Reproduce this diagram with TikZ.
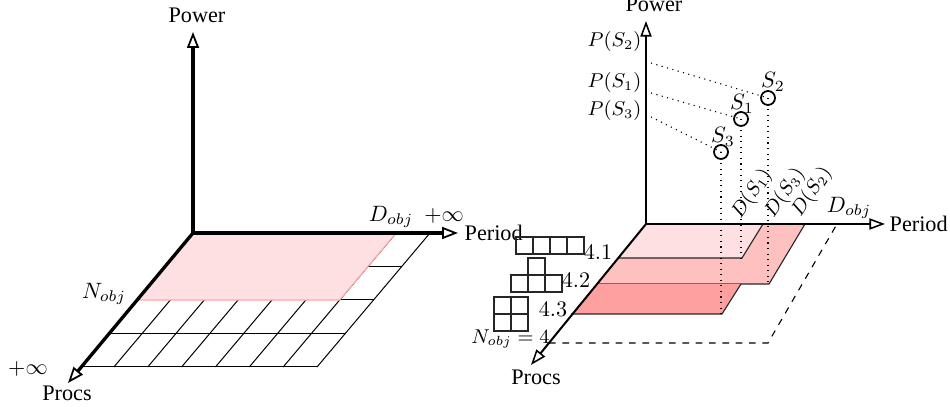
\documentclass[tikz,border=0pt]{standalone}
\usepackage[no-math]{fontspec}
\setmainfont{Liberation Serif}
\usetikzlibrary{arrows.meta}
\definecolor{pinkA}{RGB}{255,224,226}
\definecolor{pinkB}{RGB}{255,192,192}
\definecolor{pinkC}{RGB}{255,160,160}
\begin{document}
\begin{tikzpicture}[x=0.45pt,y=-0.45pt,
  axisL/.style={line width=1.5pt,-{Triangle[open,length=7.2pt,width=5.4pt,line width=0.8pt]}},
  axisR/.style={line width=0.9pt,-{Triangle[open,length=7pt,width=5pt,line width=0.7pt]}},
  gridline/.style={line width=0.45pt},
  region/.style={draw=black!85,line width=0.5pt},
  sol/.style={circle,draw,line width=0.8pt,minimum size=6.3pt,inner sep=0pt},
  tile/.style={line width=0.5pt,draw=black!85},
  lbl/.style={inner sep=1pt},
  slbl/.style={inner sep=1pt,font=\small}]
\useasboundingbox (0,0) rectangle (950,407);

% ---------------- left diagram ----------------
\coordinate (LO) at (193,233);
\coordinate (LPow) at (193,32);
\coordinate (LPer) at (458,233);
\coordinate (LProc) at (68,383);
\foreach \i in {1,...,7}
  \draw[gridline] ({193+\i*33.86},233) -- ++(-113,134);
\foreach \j in {1,...,4}
  \draw[gridline] ({193-\j*28.25},{233+\j*33.5}) -- ++(237,0);
\fill[pinkA,draw=red!35,line width=0.5pt] (193,233) -- ({193+6*33.86},233) -- ({193+6*33.86-56.5},300) -- (136.5,300) -- cycle;
\draw[axisL] (LO) -- (LPow);
\draw[axisL] (LO) -- (LPer);
\draw[axisL] (LO) -- (LProc);
\node[lbl] (lpower) at (197,15) {Power};
\node[lbl,anchor=west] (lperiod) at (462,233) {Period};
\node[lbl] (lprocs) at (67,393) {Procs};
\node[lbl] (ldobj) at (391,217) {$D_{obj}$};
\node[lbl] (linfa) at (444,216) {$+\infty$};
\node[lbl] (linfb) at (28,369) {$+\infty$};
\node[lbl] (lnobj) at (104,294) {$N_{obj}$};

% ---------------- right diagram ----------------
\coordinate (RO) at (646,224);
\coordinate (RPow) at (646,21);
\coordinate (RPer) at (885,224);
\coordinate (RProc) at (531,365);
\fill[pinkB] (646,224) -- (805,224) -- (769,284) -- (597,284) -- cycle;
\draw[region] (805,224) -- (769,284) -- (597,284);
\fill[pinkA] (646,224) -- (763,224) -- (742,258) -- (618,258) -- cycle;
\draw[region] (763,224) -- (742,258) -- (618,258);
\fill[pinkC] (597,284) -- (741,284) -- (722,314) -- (571,314) -- cycle;
\draw[region] (741,284) -- (722,314) -- (571,314);
\coordinate (da) at (549,343);
\coordinate (db) at (768,343);
\coordinate (dc) at (837,224);
\draw[dashed,line width=0.5pt] (da) -- (db) -- (dc);

\node[sol] (s2) at (768,98) {};
\node[sol] (s1) at (741,119) {};
\node[sol] (s3) at (721,152) {};
\coordinate (p2) at (651,63);
\coordinate (p1) at (651,93);
\coordinate (p3) at (651,117);
\draw[dotted,line width=0.5pt] (p2) -- (s2.center);
\draw[dotted,line width=0.5pt] (p1) -- (s1.center);
\draw[dotted,line width=0.5pt] (p3) -- (s3.center);
\coordinate (b1) at (741,258);
\coordinate (b2) at (768,284);
\coordinate (b3) at (721,314);
\draw[dotted,line width=0.5pt] (s1.center) -- (b1);
\draw[dotted,line width=0.5pt] (s2.center) -- (b2);
\draw[dotted,line width=0.5pt] (s3.center) -- (b3);

\draw[axisR] (RO) -- (RPow);
\draw[axisR] (RO) -- (RPer);
\draw[axisR] (RO) -- (RProc);

\node[lbl] (ls2) at (773,82) {$S_2$};
\node[lbl] (ls1) at (742,104) {$S_1$};
\node[lbl] (ls3) at (723,137) {$S_3$};
\node[slbl,anchor=east] (ps2) at (644,42) {$P(S_2)$};
\node[slbl,anchor=east] (ps1) at (644,83) {$P(S_1)$};
\node[slbl,anchor=east] (ps3) at (644,111) {$P(S_3)$};
\node[slbl,rotate=56] (ds1) at (752,194) {$D(S_1)$};
\node[slbl,rotate=56] (ds3) at (785,193) {$D(S_3)$};
\node[slbl,rotate=56] (ds2) at (812,192) {$D(S_2)$};
\node[lbl] (rdobj) at (849,208) {$D_{obj}$};
\node[lbl,anchor=west] (rperiod) at (887,224) {Period};
\node[lbl] (rprocs) at (536,377) {Procs};
\node[lbl] (rpower) at (654,4) {Power};

% legend tiles
\draw[tile] (516,237) rectangle (584,254);
\draw[tile] (533,237) -- (533,254) (550,237) -- (550,254) (567,237) -- (567,254);
\draw[tile] (511,275) rectangle (562,292);
\draw[tile] (528,258) rectangle (545,292);
\draw[tile] (494,297) rectangle (528,331);
\draw[tile] (511,297) -- (511,331) (494,314) -- (528,314);
\node[lbl] (t41) at (598,252) {$4.1$};
\node[lbl] (t42) at (576,280) {$4.2$};
\node[lbl] (t43) at (553,309) {$4.3$};
\node[slbl,anchor=east,inner sep=0pt] (nobj) at (550,339) {$N_{obj}=4$};
\end{tikzpicture}
\end{document}
